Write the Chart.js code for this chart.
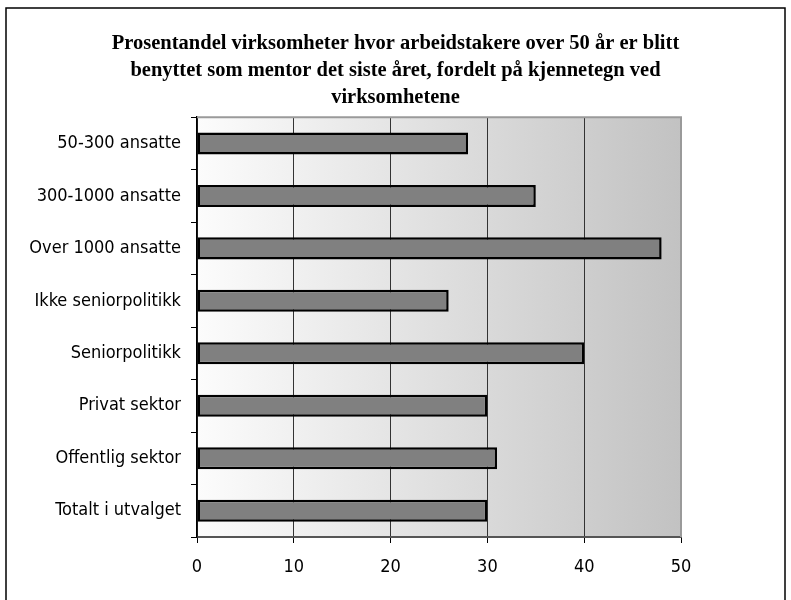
<!DOCTYPE html>
<html>
<head>
<meta charset="utf-8">
<script src="https://cdn.jsdelivr.net/npm/chart.js@4.4.1/dist/chart.umd.min.js"></script>
<style>
  html, body { margin: 0; padding: 0; background: #fff; }
  #wrap { width: 791px; height: 600px; }
</style>
</head>
<body>
<div id="wrap"><canvas id="c" width="791" height="600"></canvas></div>
<script>
const titleLines = [
  'Prosentandel virksomheter hvor arbeidstakere over 50 år er blitt',
  'benyttet som mentor det siste året, fordelt på kjennetegn ved',
  'virksomhetene'
];
const categories = [
  '50-300 ansatte',
  '300-1000 ansatte',
  'Over 1000 ansatte',
  'Ikke seniorpolitikk',
  'Seniorpolitikk',
  'Privat sektor',
  'Offentlig sektor',
  'Totalt i utvalget'
];
const shares = [28, 35, 48, 26, 40, 30, 31, 30];
const axisTicks = [0, 10, 20, 30, 40, 50];

const labelFont = { family: "'Liberation Sans Narrow', 'DejaVu Sans Condensed', 'Liberation Sans', sans-serif", size: 18 };

// Page frame, plot background gradient and the plot's upper edge
const backdrop = {
  id: 'backdrop',
  beforeDraw(chart) {
    const { ctx, chartArea: a } = chart;
    ctx.save();
    ctx.fillStyle = '#ffffff';
    ctx.fillRect(0, 0, chart.width, chart.height);
    ctx.strokeStyle = '#000';
    ctx.lineWidth = 1.5;
    ctx.strokeRect(6, 8, 779, 620);
    const g = ctx.createLinearGradient(a.left, 0, a.right, 0);
    g.addColorStop(0, '#fcfcfc');
    g.addColorStop(1, '#c2c2c2');
    ctx.fillStyle = g;
    ctx.fillRect(a.left, a.top, a.right - a.left, a.bottom - a.top);
    ctx.restore();
  },
  afterDraw(chart) {
    const { ctx, chartArea: a } = chart;
    ctx.save();
    ctx.strokeStyle = '#9a9a9a';
    ctx.lineWidth = 2;
    ctx.beginPath();
    ctx.moveTo(a.left, a.top);
    ctx.lineTo(a.right, a.top);
    ctx.lineTo(a.right, a.bottom);
    ctx.stroke();
    ctx.restore();
  }
};

new Chart(document.getElementById('c'), {
  type: 'bar',
  data: {
    labels: categories,
    datasets: [{
      data: shares,
      backgroundColor: '#808080',
      borderColor: '#000000',
      borderWidth: 2.5,
      borderSkipped: false,
      barPercentage: 0.42,
      categoryPercentage: 1
    }]
  },
  options: {
    indexAxis: 'y',
    responsive: false,
    animation: false,
    layout: { padding: 0 },
    plugins: {
      legend: { display: false },
      tooltip: { enabled: false },
      title: {
        display: true,
        text: titleLines,
        color: '#000',
        font: { family: "'Liberation Serif', 'Times New Roman', serif", weight: 'bold', size: 20.5, lineHeight: 1.32 },
        padding: { top: 30, bottom: 6 }
      }
    },
    scales: {
      x: {
        min: 0,
        max: 50,
        afterBuildTicks(scale) { scale.ticks = axisTicks.map(v => ({ value: v })); },
        afterFit(scale) { scale.height = 63; },
        border: { display: true, color: '#555', width: 2 },
        grid: {
          color: ctx => (ctx.tick && ctx.tick.value === 50) ? 'rgba(0,0,0,0)' : '#333',
          lineWidth: 1,
          tickColor: '#000',
          tickLength: 6
        },
        ticks: { color: '#000', font: labelFont, padding: 14 }
      },
      y: {
        afterFit(scale) { scale.width = 197; },
        border: { display: true, color: '#000', width: 1.5 },
        grid: {
          offset: true,
          drawOnChartArea: false,
          color: '#000',
          tickColor: '#000',
          tickLength: 6
        },
        ticks: { color: '#000', font: labelFont, padding: 10 }
      },
      // empty right-hand margin so the title centres over the whole page
      yRight: {
        type: 'category',
        position: 'right',
        afterFit(scale) { scale.width = 110; },
        border: { display: false },
        grid: { display: false },
        ticks: { display: false }
      }
    }
  },
  plugins: [backdrop]
});
</script>
</body>
</html>
